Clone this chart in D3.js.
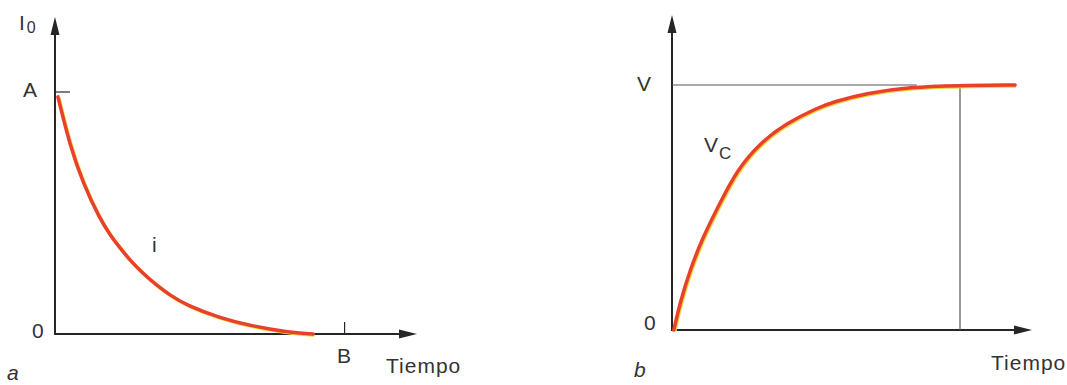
<!DOCTYPE html>
<html>
<head>
<meta charset="utf-8">
<script src="https://cdn.jsdelivr.net/npm/d3@7"></script>
<style>
  body { margin: 0; background: #fff; }
  svg text { font-family: "Liberation Sans", Arial, sans-serif; fill: #333; }
</style>
</head>
<body>
<svg id="chart" width="1067" height="385"></svg>
<script>
// panel a: current decay i (time units, fraction of A)
var discharT = [0.08, 0.41, 0.77, 1.24, 1.52, 1.80, 2.07, 2.43, 2.82, 3.18, 3.65, 4.56, 5.47, 6.41, 7.13];
var discharI = [0.98, 0.78, 0.625, 0.475, 0.41, 0.355, 0.305, 0.25, 0.2, 0.16, 0.118, 0.066, 0.032, 0.008, 0];
// panel b: capacitor voltage Vc (fraction of V)
var chargeT = [0.05, 0.22, 0.5, 0.86, 1.33, 1.81, 2.44, 3.19, 4.03, 4.47, 5.42, 6.61, 7.92, 9.53];
var chargeV = [0, 0.11, 0.245, 0.38, 0.518, 0.653, 0.763, 0.845, 0.906, 0.931, 0.967, 0.992, 0.998, 1.0];
var markB = 8;       // time mark B
var levelA = 1;      // A / V level

var svg = d3.select("#chart");
var red = "#e8402a", yellow = "#f7d23a", ink = "#262626";

// scales
var xa = d3.scaleLinear().domain([0, 10]).range([55, 417]);
var ya = d3.scaleLinear().domain([0, 1]).range([334, 92]);
var xb = d3.scaleLinear().domain([0, 10]).range([672, 1032]);
var yb = d3.scaleLinear().domain([0, 1]).range([330, 85]);

function arrowHead(g, x, y, dir) {
    // dir: "up" or "right"
    var p = dir === "up"
        ? [[x, y], [x - 4.5, y + 18], [x + 4.5, y + 18]]
        : [[x, y], [x - 18, y - 4.5], [x - 18, y + 4.5]];
    g.append("path").attr("d", "M" + p.join("L") + "Z").attr("fill", ink);
}

function drawCurve(g, xs, ys, tt, vv) {
    var line = d3.line()
        .x(function(d, i) { return xs(tt[i]); })
        .y(function(d, i) { return ys(vv[i]); })
        .curve(d3.curveBasis);
    g.append("path").attr("d", line(tt))
        .attr("fill", "none").attr("stroke", yellow).attr("stroke-width", 3.5)
        .attr("transform", "translate(1,1)");
    g.append("path").attr("d", line(tt))
        .attr("fill", "none").attr("stroke", red).attr("stroke-width", 3.5)
        .attr("stroke-linecap", "round");
}

// ---- panel a ----
var ga = svg.append("g");
ga.append("line").attr("x1", xa(0)).attr("y1", ya(0) + 1).attr("x2", xa(0)).attr("y2", 30)
    .attr("stroke", ink).attr("stroke-width", 2);
arrowHead(ga, xa(0), 17, "up");
ga.append("line").attr("x1", xa(0) - 1).attr("y1", ya(0)).attr("x2", 405).attr("y2", ya(0))
    .attr("stroke", ink).attr("stroke-width", 2);
arrowHead(ga, 417, ya(0), "right");
// A tick
ga.append("line").attr("x1", xa(0)).attr("y1", ya(levelA)).attr("x2", xa(0) + 15).attr("y2", ya(levelA))
    .attr("stroke", ink).attr("stroke-width", 1.2);
// B tick
ga.append("line").attr("x1", xa(markB)).attr("y1", ya(0)).attr("x2", xa(markB)).attr("y2", ya(0) - 12)
    .attr("stroke", ink).attr("stroke-width", 1.2);

drawCurve(ga, xa, ya, discharT, discharI);

ga.append("text").attr("x", 19).attr("y", 30).style("font-size", "21px").text("I")
  .append("tspan").attr("dx", 2).attr("dy", 3).style("font-size", "16px").text("0");
ga.append("text").attr("x", 23).attr("y", 97).style("font-size", "21px").text("A");
ga.append("text").attr("x", 32).attr("y", 338).style("font-size", "21px").text("0");
ga.append("text").attr("x", 337).attr("y", 363).style("font-size", "21px").text("B");
ga.append("text").attr("x", 386).attr("y", 373).style("font-size", "21px").style("letter-spacing", "1px").text("Tiempo");
ga.append("text").attr("x", 152).attr("y", 252).style("font-size", "21px").text("i");
ga.append("text").attr("x", 7).attr("y", 380).style("font-size", "21px").style("font-style", "italic").text("a");

// ---- panel b ----
var gb = svg.append("g");
gb.append("line").attr("x1", xb(0)).attr("y1", yb(0) + 1).attr("x2", xb(0)).attr("y2", 28)
    .attr("stroke", ink).attr("stroke-width", 2);
arrowHead(gb, xb(0), 15, "up");
gb.append("line").attr("x1", xb(0) - 1).attr("y1", yb(0)).attr("x2", 1020).attr("y2", yb(0))
    .attr("stroke", ink).attr("stroke-width", 2);
arrowHead(gb, 1032, yb(0), "right");
// V level and time mark lines
gb.append("line").attr("x1", xb(0)).attr("y1", yb(levelA)).attr("x2", xb(6.8)).attr("y2", yb(levelA))
    .attr("stroke", "#555").attr("stroke-width", 1.2);
gb.append("line").attr("x1", xb(markB)).attr("y1", yb(levelA)).attr("x2", xb(markB)).attr("y2", yb(0))
    .attr("stroke", "#555").attr("stroke-width", 1.2);

drawCurve(gb, xb, yb, chargeT, chargeV);

gb.append("text").attr("x", 637).attr("y", 91).style("font-size", "21px").text("V");
gb.append("text").attr("x", 704).attr("y", 152).style("font-size", "21px").text("V")
  .append("tspan").attr("dx", 1).attr("dy", 7).style("font-size", "17px").text("C");
gb.append("text").attr("x", 644).attr("y", 330).style("font-size", "21px").text("0");
gb.append("text").attr("x", 991).attr("y", 370).style("font-size", "21px").style("letter-spacing", "1px").text("Tiempo");
gb.append("text").attr("x", 634).attr("y", 377).style("font-size", "21px").style("font-style", "italic").text("b");
</script>
</body>
</html>
